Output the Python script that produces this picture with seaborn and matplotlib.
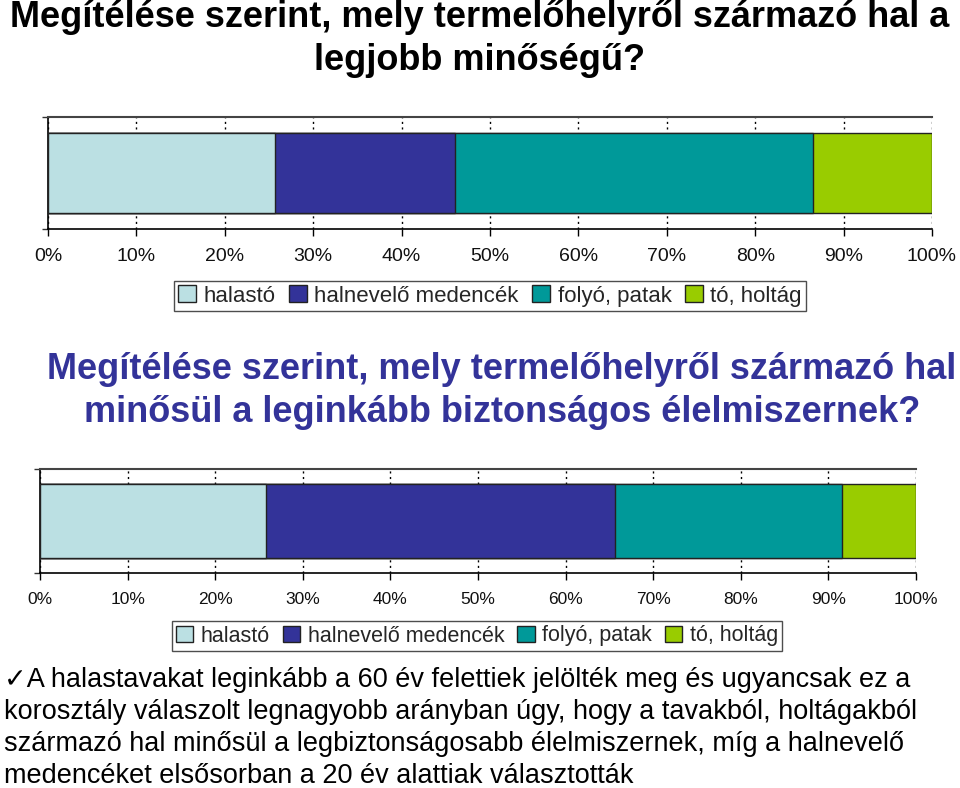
import numpy as np
import pandas as pd
import matplotlib.pyplot as plt
import seaborn as sns

# =========================
# Data
# =========================
categories = ["halastó", "halnevelő medencék", "folyó, patak", "tó, holtág"]
colors = ["#BBE0E3", "#333399", "#009999", "#99CC00"]

quality_pct = [25.7, 20.3, 40.5, 13.5]   # legjobb minőségű
safety_pct = [25.8, 39.8, 26.0, 8.4]     # leginkább biztonságos

xticks = [0, 10, 20, 30, 40, 50, 60, 70, 80, 90, 100]
xtick_labels = [f"{t}%" for t in xticks]

title_1 = "Megítélése szerint, mely termelőhelyről származó hal a\nlegjobb minőségű?"
title_2 = "Megítélése szerint, mely termelőhelyről származó hal\nminősül a leginkább biztonságos élelmiszernek?"
note_lines = [
    "✓A halastavakat leginkább a 60 év felettiek jelölték meg és ugyancsak ez a",
    "korosztály válaszolt legnagyobb arányban úgy, hogy a tavakból, holtágakból",
    "származó hal minősül a legbiztonságosabb élelmiszernek, míg a halnevelő",
    "medencéket elsősorban a 20 év alattiak választották",
]

sns.set_theme(style="white")
plt.rcParams["font.family"] = ["Liberation Sans", "DejaVu Sans"]

fig = plt.figure(figsize=(9.6, 7.88), dpi=100)


def stacked_bar(ax, values, tick_size):
    # kumulatív összegek, hátulról rajzolva -> egymásra rakott sáv
    df = pd.DataFrame({"cat": categories, "val": values})
    df["cum"] = df["val"].cumsum()
    df["row"] = ""
    for i in range(len(df) - 1, -1, -1):
        sns.barplot(data=df.iloc[[i]], x="cum", y="row", color=colors[i],
                    orient="h", width=0.72, edgecolor="#222222",
                    linewidth=1.0, ax=ax, zorder=3, saturation=1)
    ax.set_xlim(0, 100)
    ax.set_ylim(0.5, -0.5)
    ax.set_xticks(xticks)
    ax.set_xticklabels(xtick_labels, fontsize=tick_size, color="#111111")
    ax.set_yticks([-0.5, 0.5])
    ax.set_yticklabels([])
    ax.set_xlabel("")
    ax.set_ylabel("")
    ax.grid(axis="x", color="black", linestyle=(0, (1.5, 2.5)), linewidth=1.0, zorder=0)
    ax.set_axisbelow(True)
    ax.tick_params(axis="x", direction="out", length=5, width=1, color="black",
                   bottom=True, pad=9)
    ax.tick_params(axis="y", direction="out", length=4, width=1, color="#333333", left=True)
    ax.spines["left"].set_color("black")
    ax.spines["bottom"].set_color("black")
    ax.spines["top"].set_color("#444444")
    ax.spines["top"].set_linewidth(1.5)
    ax.spines["right"].set_visible(False)
    for s in ["left", "bottom"]:
        ax.spines[s].set_linewidth(1.2)


def legend_box(y, x, size):
    handles = [plt.Rectangle((0, 0), 1, 1, facecolor=c, edgecolor="#222222", linewidth=1)
               for c in colors]
    fig.legend(handles, categories, loc="center", bbox_to_anchor=(x, y),
               ncol=4, frameon=True, fontsize=size, handlelength=0.8, handleheight=0.8,
               handletextpad=0.35, columnspacing=0.6, borderpad=0.2,
               fancybox=False, edgecolor="#222222")


# Első diagram
fig.text(0.5, 1 - 39 / 788, title_1, ha="center", va="center", fontsize=26,
         fontweight="bold", color="black", linespacing=1.28)
ax1 = fig.add_axes([48 / 960, 1 - 229 / 788, 884 / 960, 112 / 788])
stacked_bar(ax1, quality_pct, 14)
legend_box(1 - 296 / 788, 490 / 960, 16)

# Második diagram
fig.text(502 / 960, 1 - 391 / 788, title_2, ha="center", va="center", fontsize=26,
         fontweight="bold", color="#333399", linespacing=1.28)
ax2 = fig.add_axes([40 / 960, 1 - 573 / 788, 876 / 960, 104 / 788])
stacked_bar(ax2, safety_pct, 12.5)
legend_box(1 - 636 / 788, 477 / 960, 15.5)

# Megjegyzés
for k, line in enumerate(note_lines):
    fig.text(4 / 960, 1 - (680 + 32 * k) / 788, line, ha="left", va="center",
             fontsize=19.5, color="black")

fig.savefig("out.png", dpi=100)
